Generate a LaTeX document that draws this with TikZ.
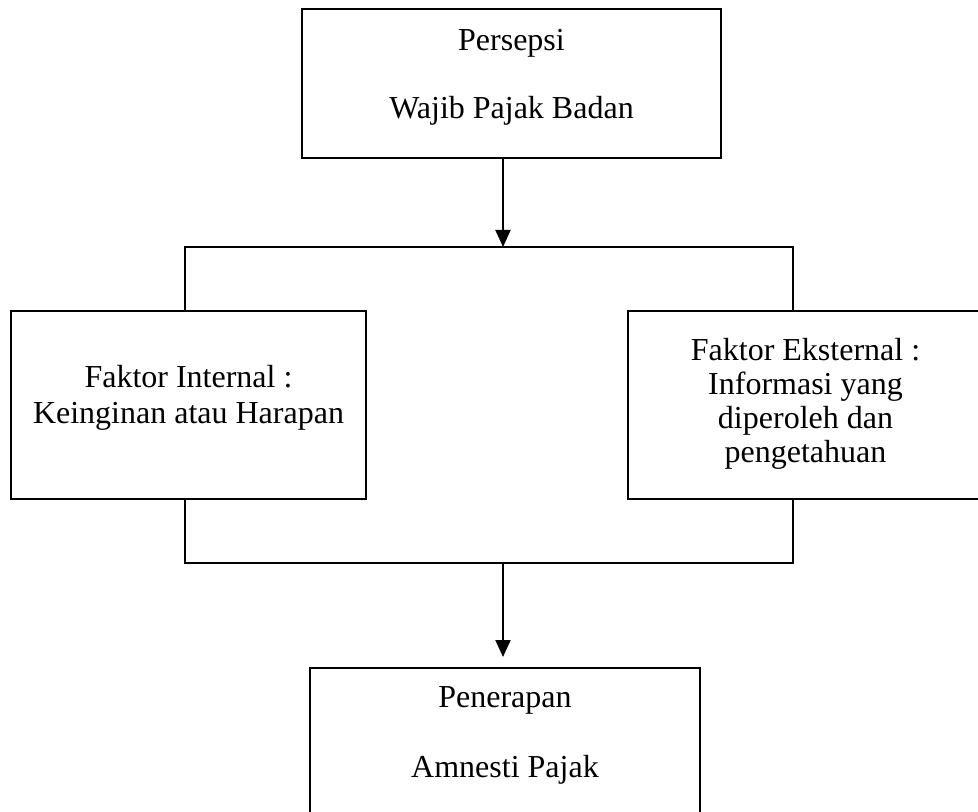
\documentclass[tikz,border=0pt]{standalone}
\usepackage{fontspec}
\setmainfont{Liberation Serif}
\usetikzlibrary{arrows.meta}
\begin{document}
\begin{tikzpicture}[x=0.5pt,y=-0.5pt,
  box/.style={draw=black, line width=1pt, inner sep=0pt, rectangle},
  txt/.style={align=center, inner sep=0pt, font=\fontsize{16}{18}\selectfont},
  conn/.style={draw=black, line width=1pt},
  arr/.style={conn, -{Triangle[width=7.5pt,length=8.5pt]}}]
\useasboundingbox (0,0) rectangle (978,812);
\clip (0,0) rectangle (978,812);
% boxes
\node[box, minimum width=209.5pt, minimum height=74.5pt] (top) at (511.5,83.5) {};
\node[txt, font=\fontsize{16}{34}\selectfont] (topT) at (511.5,77) {Persepsi\\Wajib Pajak Badan};
\node[box, minimum width=177.5pt, minimum height=94pt] (left) at (188.5,405) {};
\node[txt, font=\fontsize{16}{18}\selectfont] (leftT) at (188.5,398) {Faktor Internal :\\Keinginan atau Harapan};
\node[box, minimum width=177.5pt, minimum height=94pt] (right) at (805.5,405) {};
\node[txt, font=\fontsize{16}{17}\selectfont] (rightT) at (805.5,404) {Faktor Eksternal :\\Informasi yang\\diperoleh dan\\pengetahuan};
\node[box, minimum width=195pt, minimum height=116.5pt, anchor=north] (bot) at (505,667) {};
\node[txt, font=\fontsize{16}{35}\selectfont] (botT) at (505,735) {Penerapan\\Amnesti Pajak};
% junction points
\coordinate (j1) at (503,247);
\coordinate (L1) at (185,247);
\coordinate (R1) at (793,247);
\coordinate (L2) at (185,563);
\coordinate (R2) at (793,563);
\coordinate (j2) at (503,563);
% connectors
\draw[arr] (top.south -| j1) -- (j1);
\draw[conn] (left.north -| L1) -- (L1) -- (R1) -- (right.north -| R1);
\draw[conn] (left.south -| L2) -- (L2) -- (R2) -- (right.south -| R2);
\draw[arr] (j2) -- ([yshift=5pt]bot.north -| j2);
\end{tikzpicture}
\end{document}
